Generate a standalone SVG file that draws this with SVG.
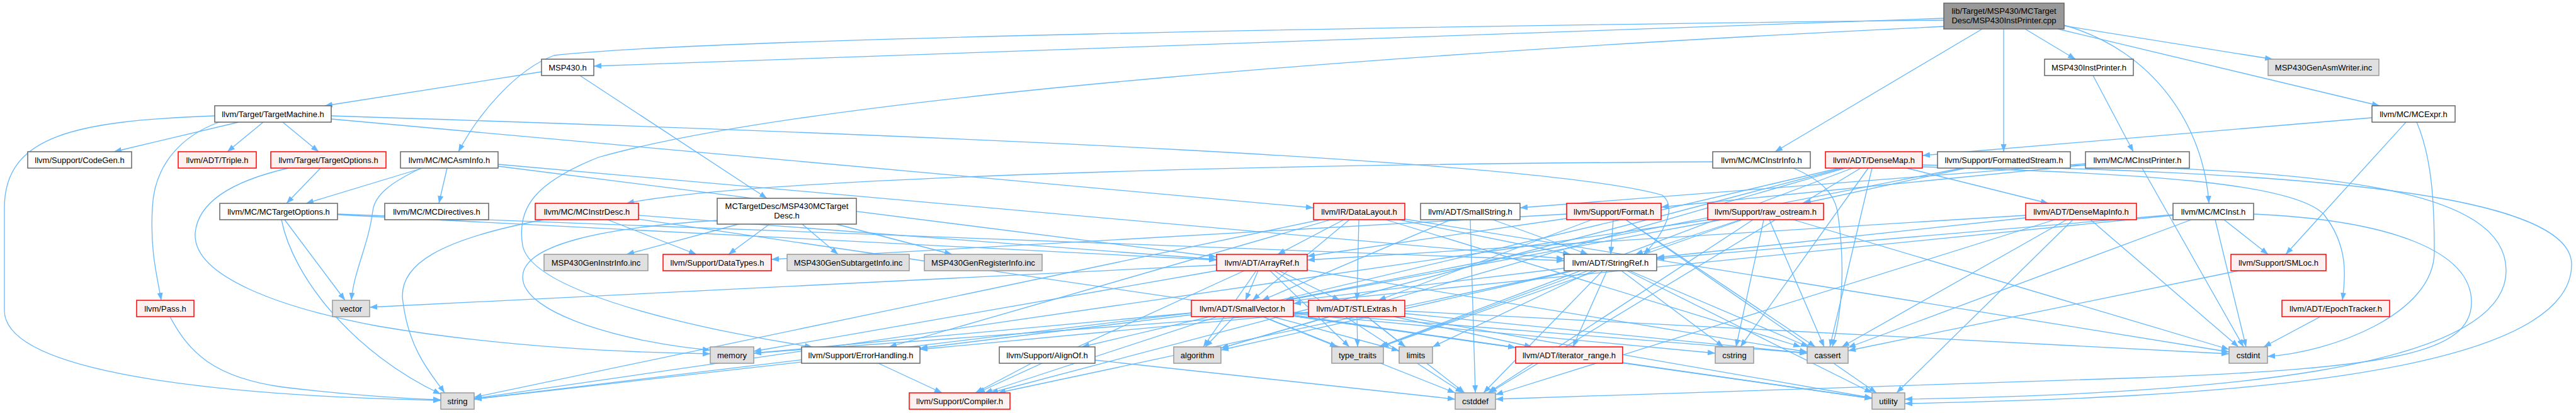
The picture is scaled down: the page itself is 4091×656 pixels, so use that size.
<svg xmlns="http://www.w3.org/2000/svg" width="4091" height="656" viewBox="0 0 4091 656">
<style>
.e{fill:none;stroke:#63b8ff;stroke-width:1.3;marker-end:url(#a)}
.node rect{stroke-width:1.5}
.w rect{fill:#ffffff;stroke:#666666}
.r rect{fill:#fff0f0;stroke:#ff0000}
.g rect{fill:#e0e0e0;stroke:#999999}
.m rect{fill:#999999;stroke:#666666}
text{font-family:"Liberation Sans",Arial,sans-serif;font-size:13px;text-anchor:middle;fill:#000000}
</style>
<defs>
<marker id="a" markerWidth="12" markerHeight="9" refX="12" refY="4.5" orient="auto" markerUnits="userSpaceOnUse"><path d="M0,0 L12,4.5 L0,9 z" fill="#63b8ff"/></marker>
</defs>
<rect width="4091" height="656" fill="#ffffff"/>
<g id="edges">
<path class="e" d="M3216,46 L3296,94"/>
<path class="e" d="M3087,29 L943,105"/>
<path class="e" d="M3087,32 C2200,42 1100,62 880,88 C820,110 760,180 728,241"/>
<path class="e" d="M3268,46 L3779,168"/>
<path class="e" d="M3278,40 C3420,80 3500,200 3508,323"/>
<path class="e" d="M3148,46 L2819,241"/>
<path class="e" d="M3087,42 C2300,80 1300,150 950,250 C850,290 820,330 830,390 C845,470 1150,530 1290,551"/>
<path class="e" d="M3182,46 L3182,241"/>
<path class="e" d="M3278,41 L3609,94"/>
<path class="e" d="M3324,120 L3388,241"/>
<path class="e" d="M860,114 L516,168"/>
<path class="e" d="M921,120 L1218,315"/>
<path class="e" d="M341,184 C120,192 7,215 7,330 L7,493 C7,600 400,630 700,636"/>
<path class="e" d="M348,194 C290,215 245,260 242,330 C238,400 250,440 256,477"/>
<path class="e" d="M379,194 L181,241"/>
<path class="e" d="M418,194 L361,241"/>
<path class="e" d="M449,194 L506,241"/>
<path class="e" d="M526,189 L2086,330"/>
<path class="e" d="M526,184 C1500,215 2450,255 2640,310 C2665,330 2640,375 2610,404"/>
<path class="e" d="M509,267 L455,323"/>
<path class="e" d="M458,267 C380,285 315,315 310,370 C305,440 450,490 600,518 C800,552 1000,560 1128,562"/>
<path class="e" d="M671,267 L486,323"/>
<path class="e" d="M710,267 L697,323"/>
<path class="e" d="M669,267 C620,290 595,310 592,335 C585,390 562,430 558,477"/>
<path class="e" d="M791,264 L1932,408"/>
<path class="e" d="M791,261 L2484,411"/>
<path class="e" d="M2720,257 C1800,262 1150,290 995,323"/>
<path class="e" d="M2848,267 C2890,285 2912,305 2918,335 C2928,400 2930,480 2910,551"/>
<path class="e" d="M3028,267 L3253,323"/>
<path class="e" d="M3053,265 C3400,275 3640,290 3690,340 C3730,390 3725,440 3720,477"/>
<path class="e" d="M2921,267 L1718,551"/>
<path class="e" d="M2927,267 L1573,624"/>
<path class="e" d="M2931,267 L1939,553"/>
<path class="e" d="M2973,267 L2906,551"/>
<path class="e" d="M2955,267 L2365,624"/>
<path class="e" d="M2967,267 L2764,551"/>
<path class="e" d="M2942,267 L2190,551"/>
<path class="e" d="M3053,262 C3600,272 4084,300 4084,420 C4084,600 3500,632 3025,641"/>
<path class="e" d="M3116,267 L2040,477"/>
<path class="e" d="M3122,267 L2864,323"/>
<path class="e" d="M3288,262 C3700,272 3980,300 3980,430 C3980,590 3500,626 3025,634"/>
<path class="e" d="M3312,262 L2638,329"/>
<path class="e" d="M3402,267 L3563,551"/>
<path class="e" d="M3312,260 L2414,330"/>
<path class="e" d="M536,341 L1932,413"/>
<path class="e" d="M536,340 L2484,414"/>
<path class="e" d="M447,349 C465,440 560,560 700,626"/>
<path class="e" d="M452,349 L548,477"/>
<path class="e" d="M1014,342 L1932,412"/>
<path class="e" d="M1014,348 L2407,552"/>
<path class="e" d="M965,349 L1106,404"/>
<path class="e" d="M863,349 C700,380 630,420 640,480 C650,560 690,600 706,624"/>
<path class="e" d="M1222,356 L1157,404"/>
<path class="e" d="M1139,350 C950,362 830,390 830,440 C830,500 1000,545 1128,556"/>
<path class="e" d="M1173,356 L995,404"/>
<path class="e" d="M1274,356 L1331,404"/>
<path class="e" d="M1328,356 L1512,404"/>
<path class="e" d="M2134,349 L2029,404"/>
<path class="e" d="M2158,349 L2155,477"/>
<path class="e" d="M2143,349 L1989,477"/>
<path class="e" d="M2222,349 L2494,404"/>
<path class="e" d="M2113,349 L1412,551"/>
<path class="e" d="M2201,349 L2860,551"/>
<path class="e" d="M2231,348 L3540,559"/>
<path class="e" d="M2097,349 L753,631"/>
<path class="e" d="M2304,349 L2004,477"/>
<path class="e" d="M2371,349 L2522,404"/>
<path class="e" d="M2335,349 L2343,624"/>
<path class="e" d="M2488,347 L2076,407"/>
<path class="e" d="M2528,349 L2189,477"/>
<path class="e" d="M2562,349 L2558,404"/>
<path class="e" d="M2488,340 L1225,412"/>
<path class="e" d="M2582,349 L2883,551"/>
<path class="e" d="M2582,349 L2980,624"/>
<path class="e" d="M2734,349 L2043,477"/>
<path class="e" d="M2764,349 L2597,404"/>
<path class="e" d="M2810,349 L2897,551"/>
<path class="e" d="M2784,349 L2363,624"/>
<path class="e" d="M2848,349 L3540,555"/>
<path class="e" d="M2801,349 L2757,551"/>
<path class="e" d="M2714,349 L753,633"/>
<path class="e" d="M2767,349 L2193,551"/>
<path class="e" d="M3217,342 L2076,413"/>
<path class="e" d="M3217,346 L2631,409"/>
<path class="e" d="M3282,349 L2925,551"/>
<path class="e" d="M3263,349 L2375,627"/>
<path class="e" d="M3320,349 L3555,551"/>
<path class="e" d="M3292,349 L3012,624"/>
<path class="e" d="M3451,342 L2054,482"/>
<path class="e" d="M3451,341 L2631,411"/>
<path class="e" d="M3532,349 L3602,404"/>
<path class="e" d="M3480,349 L2935,552"/>
<path class="e" d="M3579,340 C3800,350 3925,400 3925,480 C3925,560 3800,585 3400,600 C3000,615 2600,628 2375,634"/>
<path class="e" d="M3518,349 L3567,551"/>
<path class="e" d="M1998,430 L1978,477"/>
<path class="e" d="M2031,430 L2128,477"/>
<path class="e" d="M1976,430 L1552,624"/>
<path class="e" d="M1995,430 L1911,551"/>
<path class="e" d="M2076,429 L2870,559"/>
<path class="e" d="M2024,430 L2323,624"/>
<path class="e" d="M1932,430 L1197,558"/>
<path class="e" d="M2017,430 L2143,551"/>
<path class="e" d="M1932,421 L587,488"/>
<path class="e" d="M2552,430 L2498,551"/>
<path class="e" d="M2496,430 L1585,624"/>
<path class="e" d="M2499,430 L1939,556"/>
<path class="e" d="M2588,430 L2872,551"/>
<path class="e" d="M2545,430 L2356,624"/>
<path class="e" d="M2575,430 L2737,551"/>
<path class="e" d="M2530,430 L2275,551"/>
<path class="e" d="M2484,426 L753,634"/>
<path class="e" d="M2522,430 L2192,551"/>
<path class="e" d="M2584,430 L2973,624"/>
<path class="e" d="M3555,430 L2935,557"/>
<path class="e" d="M270,503 C300,560 340,600 450,615 C560,628 640,633 700,635"/>
<path class="e" d="M2054,502 L2407,552"/>
<path class="e" d="M1933,503 L1564,624"/>
<path class="e" d="M1892,500 L1461,553"/>
<path class="e" d="M1960,503 L1914,551"/>
<path class="e" d="M2054,496 L2870,561"/>
<path class="e" d="M2006,503 L2311,624"/>
<path class="e" d="M2054,498 L2724,561"/>
<path class="e" d="M2021,503 L2222,557"/>
<path class="e" d="M1892,497 L1197,561"/>
<path class="e" d="M2005,503 L2124,551"/>
<path class="e" d="M2054,502 L2973,633"/>
<path class="e" d="M2214,503 L2433,551"/>
<path class="e" d="M2078,497 L1461,555"/>
<path class="e" d="M2110,503 L1939,553"/>
<path class="e" d="M2231,498 L2870,561"/>
<path class="e" d="M2171,503 L2326,624"/>
<path class="e" d="M2231,494 L3540,562"/>
<path class="e" d="M2171,503 L2232,551"/>
<path class="e" d="M2078,496 L1197,561"/>
<path class="e" d="M2155,503 L2156,551"/>
<path class="e" d="M2229,503 L2973,632"/>
<path class="e" d="M3685,503 L3595,551"/>
<path class="e" d="M1395,577 L1496,624"/>
<path class="e" d="M1273,575 L753,634"/>
<path class="e" d="M1638,577 L1549,624"/>
<path class="e" d="M1739,572 L2311,634"/>
<path class="e" d="M2577,576 L2973,633"/>
<path class="e" d="M3767,187 L3053,247"/>
<path class="e" d="M3821,194 L3630,404"/>
<path class="e" d="M3838,194 C3862,250 3866,320 3866,400 C3866,500 3700,560 3601,566"/>
</g>
<g id="n_main" class="node m"><rect x="3087" y="5" width="191" height="41"/><text x="3182.5" y="22">lib/Target/MSP430/MCTarget</text><text x="3182.5" y="37">Desc/MSP430InstPrinter.cpp</text></g>
<g id="n_ip" class="node w"><rect x="3247" y="94" width="141" height="26"/><text x="3317.5" y="111.5">MSP430InstPrinter.h</text></g>
<g id="n_msp" class="node w"><rect x="860" y="94" width="83" height="26"/><text x="901.5" y="111.5">MSP430.h</text></g>
<g id="n_asmw" class="node g"><rect x="3602" y="94" width="176" height="26"/><text x="3690" y="111.5">MSP430GenAsmWriter.inc</text></g>
<g id="n_tm" class="node w"><rect x="341" y="168" width="185" height="26"/><text x="433.5" y="185.5">llvm/Target/TargetMachine.h</text></g>
<g id="n_expr" class="node w"><rect x="3767" y="168" width="132" height="26"/><text x="3833" y="185.5">llvm/MC/MCExpr.h</text></g>
<g id="n_cg" class="node w"><rect x="44" y="241" width="165" height="26"/><text x="126.5" y="258.5">llvm/Support/CodeGen.h</text></g>
<g id="n_tri" class="node r"><rect x="283" y="241" width="124" height="26"/><text x="345" y="258.5">llvm/ADT/Triple.h</text></g>
<g id="n_to" class="node r"><rect x="430" y="241" width="183" height="26"/><text x="521.5" y="258.5">llvm/Target/TargetOptions.h</text></g>
<g id="n_ai" class="node w"><rect x="636" y="241" width="155" height="26"/><text x="713.5" y="258.5">llvm/MC/MCAsmInfo.h</text></g>
<g id="n_ii" class="node w"><rect x="2720" y="241" width="155" height="26"/><text x="2797.5" y="258.5">llvm/MC/MCInstrInfo.h</text></g>
<g id="n_dm" class="node r"><rect x="2899" y="241" width="154" height="26"/><text x="2976" y="258.5">llvm/ADT/DenseMap.h</text></g>
<g id="n_fs" class="node w"><rect x="3077" y="241" width="211" height="26"/><text x="3182.5" y="258.5">llvm/Support/FormattedStream.h</text></g>
<g id="n_mip" class="node w"><rect x="3312" y="241" width="165" height="26"/><text x="3394.5" y="258.5">llvm/MC/MCInstPrinter.h</text></g>
<g id="n_mto" class="node w"><rect x="349" y="323" width="187" height="26"/><text x="442.5" y="340.5">llvm/MC/MCTargetOptions.h</text></g>
<g id="n_dir" class="node w"><rect x="611" y="323" width="165" height="26"/><text x="693.5" y="340.5">llvm/MC/MCDirectives.h</text></g>
<g id="n_idesc" class="node r"><rect x="850" y="323" width="164" height="26"/><text x="932" y="340.5">llvm/MC/MCInstrDesc.h</text></g>
<g id="n_td" class="node w"><rect x="1139" y="315" width="221" height="41"/><text x="1249.5" y="332">MCTargetDesc/MSP430MCTarget</text><text x="1249.5" y="347">Desc.h</text></g>
<g id="n_dl" class="node r"><rect x="2086" y="323" width="145" height="26"/><text x="2158.5" y="340.5">llvm/IR/DataLayout.h</text></g>
<g id="n_ss" class="node w"><rect x="2256" y="323" width="158" height="26"/><text x="2335" y="340.5">llvm/ADT/SmallString.h</text></g>
<g id="n_fmt" class="node r"><rect x="2488" y="323" width="150" height="26"/><text x="2563" y="340.5">llvm/Support/Format.h</text></g>
<g id="n_ro" class="node r"><rect x="2712" y="323" width="184" height="26"/><text x="2804" y="340.5">llvm/Support/raw_ostream.h</text></g>
<g id="n_dmi" class="node r"><rect x="3217" y="323" width="176" height="26"/><text x="3305" y="340.5">llvm/ADT/DenseMapInfo.h</text></g>
<g id="n_inst" class="node w"><rect x="3451" y="323" width="128" height="26"/><text x="3515" y="340.5">llvm/MC/MCInst.h</text></g>
<g id="n_gii" class="node g"><rect x="864" y="404" width="165" height="26"/><text x="946.5" y="421.5">MSP430GenInstrInfo.inc</text></g>
<g id="n_dt" class="node r"><rect x="1053" y="404" width="172" height="26"/><text x="1139" y="421.5">llvm/Support/DataTypes.h</text></g>
<g id="n_gsi" class="node g"><rect x="1250" y="404" width="194" height="26"/><text x="1347" y="421.5">MSP430GenSubtargetInfo.inc</text></g>
<g id="n_gri" class="node g"><rect x="1468" y="404" width="187" height="26"/><text x="1561.5" y="421.5">MSP430GenRegisterInfo.inc</text></g>
<g id="n_ar" class="node r"><rect x="1932" y="404" width="144" height="26"/><text x="2004" y="421.5">llvm/ADT/ArrayRef.h</text></g>
<g id="n_sr" class="node w"><rect x="2484" y="404" width="147" height="26"/><text x="2557.5" y="421.5">llvm/ADT/StringRef.h</text></g>
<g id="n_sml" class="node r"><rect x="3543" y="404" width="151" height="26"/><text x="3618.5" y="421.5">llvm/Support/SMLoc.h</text></g>
<g id="n_pass" class="node r"><rect x="217" y="477" width="91" height="26"/><text x="262.5" y="494.5">llvm/Pass.h</text></g>
<g id="n_vec" class="node g"><rect x="528" y="477" width="59" height="26"/><text x="557.5" y="494.5">vector</text></g>
<g id="n_sv" class="node r"><rect x="1892" y="477" width="162" height="26"/><text x="1973" y="494.5">llvm/ADT/SmallVector.h</text></g>
<g id="n_stl" class="node r"><rect x="2078" y="477" width="153" height="26"/><text x="2154.5" y="494.5">llvm/ADT/STLExtras.h</text></g>
<g id="n_ep" class="node r"><rect x="3624" y="477" width="171" height="26"/><text x="3709.5" y="494.5">llvm/ADT/EpochTracker.h</text></g>
<g id="n_mem" class="node g"><rect x="1128" y="551" width="69" height="26"/><text x="1162.5" y="568.5">memory</text></g>
<g id="n_eh" class="node w"><rect x="1273" y="551" width="188" height="26"/><text x="1367" y="568.5">llvm/Support/ErrorHandling.h</text></g>
<g id="n_al" class="node w"><rect x="1587" y="551" width="152" height="26"/><text x="1663" y="568.5">llvm/Support/AlignOf.h</text></g>
<g id="n_alg" class="node g"><rect x="1864" y="551" width="75" height="26"/><text x="1901.5" y="568.5">algorithm</text></g>
<g id="n_tt" class="node g"><rect x="2115" y="551" width="82" height="26"/><text x="2156" y="568.5">type_traits</text></g>
<g id="n_lim" class="node g"><rect x="2222" y="551" width="53" height="26"/><text x="2248.5" y="568.5">limits</text></g>
<g id="n_itr" class="node r"><rect x="2407" y="551" width="170" height="26"/><text x="2492" y="568.5">llvm/ADT/iterator_range.h</text></g>
<g id="n_cstr" class="node g"><rect x="2724" y="551" width="61" height="26"/><text x="2754.5" y="568.5">cstring</text></g>
<g id="n_cas" class="node g"><rect x="2870" y="551" width="65" height="26"/><text x="2902.5" y="568.5">cassert</text></g>
<g id="n_ci" class="node g"><rect x="3540" y="551" width="61" height="26"/><text x="3570.5" y="568.5">cstdint</text></g>
<g id="n_str" class="node g"><rect x="700" y="624" width="53" height="26"/><text x="726.5" y="641.5">string</text></g>
<g id="n_comp" class="node r"><rect x="1444" y="624" width="160" height="26"/><text x="1524" y="641.5">llvm/Support/Compiler.h</text></g>
<g id="n_cd" class="node g"><rect x="2311" y="624" width="64" height="26"/><text x="2343" y="641.5">cstddef</text></g>
<g id="n_ut" class="node g"><rect x="2973" y="624" width="52" height="26"/><text x="2999" y="641.5">utility</text></g>
</svg>
